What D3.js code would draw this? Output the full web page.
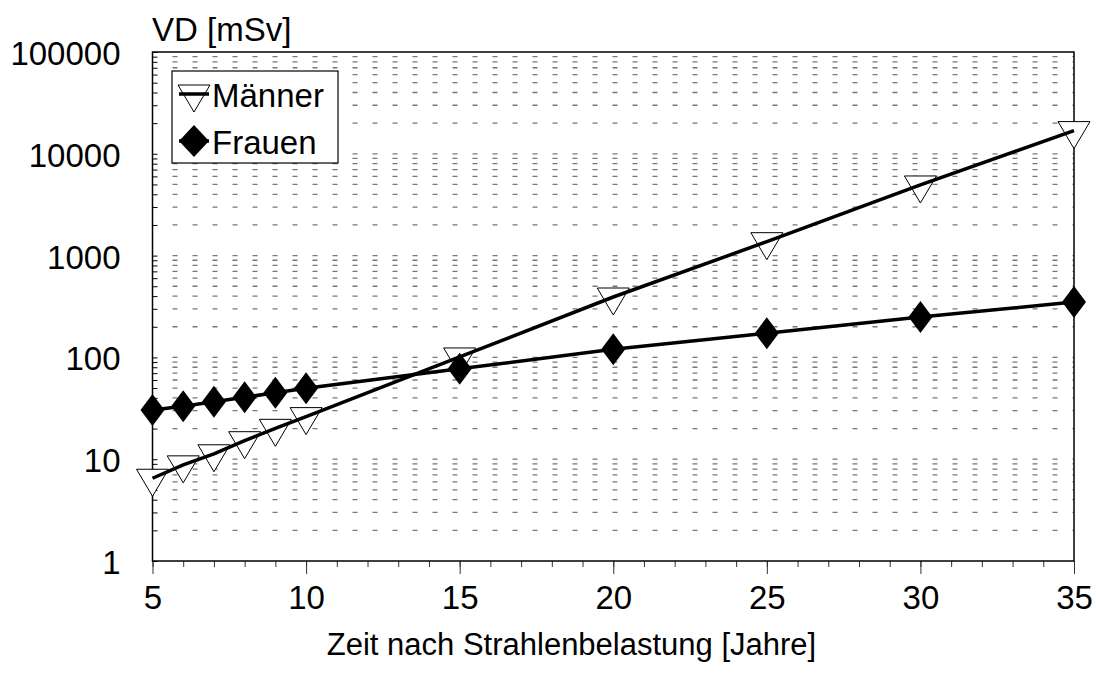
<!DOCTYPE html>
<html>
<head>
<meta charset="utf-8">
<script src="https://cdn.jsdelivr.net/npm/d3@7"></script>
<style>
  body { margin: 0; background: #fff; }
  text { font-family: "Liberation Sans", Helvetica, Arial, sans-serif; fill: #000; }
</style>
</head>
<body>
<div id="chart"></div>
<script>
  // data
  const years = [5, 6, 7, 8, 9, 10, 15, 20, 25, 30, 35];
  const maenner = [6.5, 8.8, 11.3, 15.2, 20.1, 26.2, 101, 392, 1370, 4940, 16900];
  const frauen = [30.4, 33.1, 36.7, 40.6, 45.0, 49.7, 77.3, 120, 173, 249, 350];
  const xMajor = [5, 10, 15, 20, 25, 30, 35];
  const yMajor = [1, 10, 100, 1000, 10000, 100000];
  const seriesNames = ["Männer", "Frauen"];

  const svgWidth = 1096;
  const svgHeight = 675;

  const margin = { top: 52, right: 22, bottom: 114, left: 152.5 };
  const width = svgWidth - margin.left - margin.right;
  const height = svgHeight - margin.top - margin.bottom;

  const svg = d3.select("#chart")
    .append("svg")
    .attr("width", svgWidth)
    .attr("height", svgHeight);

  const chartGroup = svg.append("g")
    .attr("transform", `translate(${margin.left}, ${margin.top})`);

  const xScale = d3.scaleLinear().domain([5, 35]).range([0, width]);
  const yScale = d3.scaleLog().domain([1, 100000]).range([height, 0]);

  // minor values 1..9 per decade
  const yMinor = [];
  yMajor.slice(0, -1).forEach(d => {
    for (let k = 1; k <= 9; k++) yMinor.push(d * k);
  });
  yMinor.push(100000);
  const xMinor = d3.range(5, 36, 1);

  // dashed horizontal gridlines
  chartGroup.append("g")
    .selectAll("line")
    .data(yMinor.filter(v => v > 1 && v < 100000))
    .enter()
    .append("line")
    .attr("x1", 20)
    .attr("x2", width)
    .attr("y1", d => yScale(d))
    .attr("y2", d => yScale(d))
    .attr("stroke", "#777")
    .attr("stroke-width", 1.3)
    .attr("stroke-dasharray", "5,15");

  // y axis: inner minor ticks
  chartGroup.append("g")
    .call(d3.axisLeft(yScale).tickValues(yMinor).tickSize(-5).tickFormat(""))
    .call(g => g.select(".domain").remove())
    .call(g => g.selectAll("line").attr("stroke", "#000"));

  // y axis labels
  chartGroup.append("g")
    .call(d3.axisLeft(yScale).tickValues(yMajor).tickSize(0).tickPadding(32).tickFormat(d3.format("d")))
    .call(g => g.select(".domain").remove())
    .call(g => g.selectAll("text").attr("font-size", 33).attr("dy", "0.38em")
      .style("font-family", '"Liberation Sans", Helvetica, Arial, sans-serif'));

  // x axis minor ticks
  chartGroup.append("g")
    .attr("transform", `translate(0, ${height})`)
    .call(d3.axisBottom(xScale).tickValues(xMinor).tickSize(6).tickFormat(""))
    .call(g => g.select(".domain").remove())
    .call(g => g.selectAll("line").attr("stroke", "#333"));

  // x axis major ticks + labels
  chartGroup.append("g")
    .attr("transform", `translate(0, ${height})`)
    .call(d3.axisBottom(xScale).tickValues(xMajor).tickSize(13).tickPadding(12))
    .call(g => g.select(".domain").remove())
    .call(g => g.selectAll("line").attr("stroke", "#333"))
    .call(g => g.selectAll("text").attr("font-size", 33)
      .style("font-family", '"Liberation Sans", Helvetica, Arial, sans-serif'));

  // plot frame
  chartGroup.append("rect")
    .attr("width", width)
    .attr("height", height)
    .attr("fill", "none")
    .attr("stroke", "#000")
    .attr("stroke-width", 1.5);

  const triPath = "M-16,-9 L16,-9 L0,18 Z";
  const diaPath = "M0,-16 L12,0 L0,16 L-12,0 Z";

  const lineGen = d3.line()
    .x((d, i) => xScale(years[i]))
    .y(d => yScale(d));

  // Männer markers
  chartGroup.append("g")
    .selectAll("path")
    .data(maenner)
    .enter()
    .append("path")
    .attr("d", triPath)
    .attr("transform", (d, i) => `translate(${xScale(years[i])}, ${yScale(d)})`)
    .attr("fill", "#fff")
    .attr("stroke", "#000")
    .attr("stroke-width", 1);

  chartGroup.append("path")
    .datum(maenner)
    .attr("d", lineGen)
    .attr("fill", "none")
    .attr("stroke", "#000")
    .attr("stroke-width", 3.5);

  chartGroup.append("path")
    .datum(frauen)
    .attr("d", lineGen)
    .attr("fill", "none")
    .attr("stroke", "#000")
    .attr("stroke-width", 3.5);

  // Frauen markers
  chartGroup.append("g")
    .selectAll("path")
    .data(frauen)
    .enter()
    .append("path")
    .attr("d", diaPath)
    .attr("transform", (d, i) => `translate(${xScale(years[i])}, ${yScale(d)})`)
    .attr("fill", "#000");

  // legend
  const legend = svg.append("g").attr("transform", "translate(172, 71)");
  legend.append("rect")
    .attr("width", 166)
    .attr("height", 92)
    .attr("fill", "#fff")
    .attr("stroke", "#000")
    .attr("stroke-width", 1.2);

  const rows = legend.selectAll("g.row")
    .data(seriesNames)
    .enter()
    .append("g")
    .attr("class", "row")
    .attr("transform", (d, i) => `translate(0, ${23 + i * 47})`);

  rows.append("path")
    .attr("d", (d, i) => i === 0 ? triPath : null)
    .attr("transform", "translate(22, 0)")
    .attr("fill", "#fff")
    .attr("stroke", "#000");

  rows.append("line")
    .attr("x1", 7)
    .attr("x2", 37)
    .attr("stroke", "#000")
    .attr("stroke-width", 3.5);

  rows.append("path")
    .attr("d", (d, i) => i === 1 ? "M0,-16 L15,0 L0,16 L-15,0 Z" : null)
    .attr("transform", "translate(22, 0)")
    .attr("fill", "#000");

  rows.append("text")
    .attr("x", 40)
    .attr("y", 0)
    .attr("dy", "0.38em")
    .attr("font-size", 33)
    .text(d => d);

  // axis titles
  svg.append("text")
    .attr("x", 152)
    .attr("y", 41)
    .attr("font-size", 33)
    .text("VD [mSv]");

  svg.append("text")
    .attr("x", 571.5)
    .attr("y", 655)
    .attr("text-anchor", "middle")
    .attr("font-size", 31)
    .text("Zeit nach Strahlenbelastung [Jahre]");
</script>
</body>
</html>
